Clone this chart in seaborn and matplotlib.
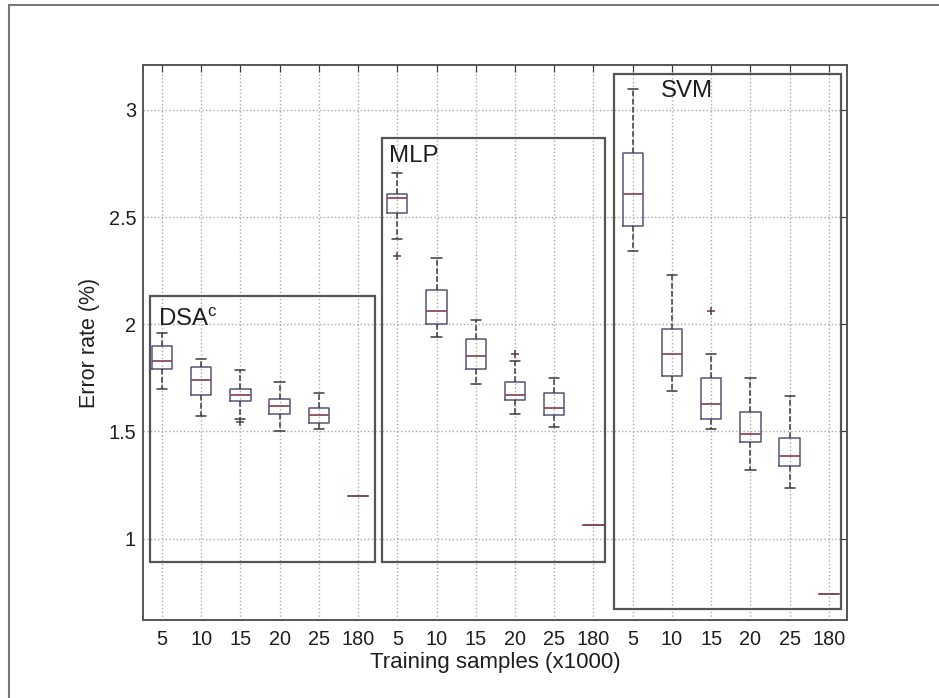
import numpy as np
import pandas as pd
import matplotlib
matplotlib.use('Agg')
import matplotlib.pyplot as plt
from matplotlib.patches import Rectangle
from matplotlib.lines import Line2D
import seaborn as sns

# 학습 샘플 수 (x1000)
sizes = ['5', '10', '15', '20', '25', '180']
methods = ['DSA', 'MLP', 'SVM']

# 박스 통계: (하단 수염, Q1, 중앙값, Q3, 상단 수염)
dsa_stats = [
    (1.70, 1.79, 1.83, 1.90, 1.96),
    (1.57, 1.67, 1.74, 1.80, 1.84),
    (1.56, 1.64, 1.67, 1.70, 1.785),
    (1.50, 1.58, 1.62, 1.65, 1.73),
    (1.51, 1.54, 1.575, 1.61, 1.68),
    (1.20, 1.20, 1.20, 1.20, 1.20),
]
mlp_stats = [
    (2.40, 2.52, 2.59, 2.61, 2.705),
    (1.94, 2.00, 2.06, 2.16, 2.31),
    (1.72, 1.79, 1.85, 1.93, 2.02),
    (1.58, 1.645, 1.67, 1.73, 1.83),
    (1.52, 1.575, 1.61, 1.68, 1.75),
    (1.065, 1.065, 1.065, 1.065, 1.065),
]
svm_stats = [
    (2.34, 2.46, 2.61, 2.80, 3.10),
    (1.69, 1.76, 1.86, 1.98, 2.23),
    (1.51, 1.56, 1.63, 1.75, 1.86),
    (1.32, 1.45, 1.49, 1.59, 1.75),
    (1.235, 1.34, 1.385, 1.47, 1.665),
    (0.74, 0.74, 0.74, 0.74, 0.74),
]

# 이상치: (방법, 샘플 수, 값)
outliers = [
    ('DSA', '15', 1.545),
    ('MLP', '5', 2.32),
    ('MLP', '20', 1.86),
    ('SVM', '15', 2.06),
]

rows = []
for g, stats in enumerate([dsa_stats, mlp_stats, svm_stats]):
    for i, st in enumerate(stats):
        for v in st:
            rows.append({'method': methods[g], 'size': sizes[i], 'pos': g * 6 + i + 1, 'err': v})
df = pd.DataFrame(rows)

pos_lookup = {(m, s): g * 6 + i + 1 for g, m in enumerate(methods) for i, s in enumerate(sizes)}
out_x = [pos_lookup[(m, s)] for m, s, v in outliers]
out_y = [v for m, s, v in outliers]

sns.set_style('white')
plt.rcParams['font.family'] = ['Liberation Sans', 'DejaVu Sans']

fig = plt.figure(figsize=(9.39, 6.98), dpi=100)
ax = fig.add_axes([0.1523, 0.1117, 0.7497, 0.7952])

box_c = '#55557a'
line_c = '#3a3a3a'
txt_c = '#1e1e1e'
sns.boxplot(data=df, x='pos', y='err', native_scale=True, width=0.52, whis=(0, 100),
            fill=False, color=box_c, linewidth=1.1, showfliers=False, ax=ax,
            boxprops=dict(color=box_c),
            whiskerprops=dict(color=line_c, linestyle='--'),
            capprops=dict(color=line_c),
            medianprops=dict(color='#8c4c5c', linewidth=1.3))
ax.scatter(out_x, out_y, marker='+', color='#5a3a4a', s=40, linewidths=1.1, zorder=5)

ax.set_xlim(0.52, 18.46)
ax.set_ylim(0.62, 3.21)
ax.set_xticks(range(1, 19))
ax.set_xticklabels(sizes * 3)
ax.set_yticks([1, 1.5, 2, 2.5, 3])
ax.set_yticklabels(['1', '1.5', '2', '2.5', '3'])
ax.tick_params(direction='in', top=True, right=True, length=5, labelsize=14.3,
               colors='#333333', labelcolor=txt_c)
ax.tick_params(axis='x', pad=7)
ax.tick_params(axis='y', pad=5)
ax.grid(True, linestyle=':', color='#aaaaaa', linewidth=1)
ax.set_axisbelow(True)
for sp in ax.spines.values():
    sp.set_color('#555555')
    sp.set_linewidth(1.4)

ax.set_xlabel('Training samples (x1000)', fontsize=16, color=txt_c, labelpad=2)
ax.set_ylabel('Error rate (%)', fontsize=15.5, color=txt_c, labelpad=6)

# 그룹 박스
for (x0, y0, x1, y1) in [(0.69, 0.89, 6.42, 2.13), (6.62, 0.89, 12.30, 2.87), (12.53, 0.67, 18.30, 3.17)]:
    ax.add_patch(Rectangle((x0, y0), x1 - x0, y1 - y0, fill=False, edgecolor='#555555', linewidth=1.6, zorder=6))

ax.text(0.90, 2.02, 'DSA$^\\mathregular{c}$', fontsize=17.3, va='center', ha='left', color=txt_c)
ax.text(6.80, 2.785, 'MLP', fontsize=17.3, va='center', ha='left', color=txt_c)
ax.text(13.72, 3.09, 'SVM', fontsize=17.3, va='center', ha='left', color=txt_c)

# 바깥 테두리 (위/왼쪽)
fig.add_artist(Line2D([9 / 939, 9 / 939], [0, 1 - 5 / 698], transform=fig.transFigure, color='#777777', linewidth=1.5))
fig.add_artist(Line2D([9 / 939, 1], [1 - 5 / 698, 1 - 5 / 698], transform=fig.transFigure, color='#777777', linewidth=1.5))

fig.savefig('out.png', dpi=100)
